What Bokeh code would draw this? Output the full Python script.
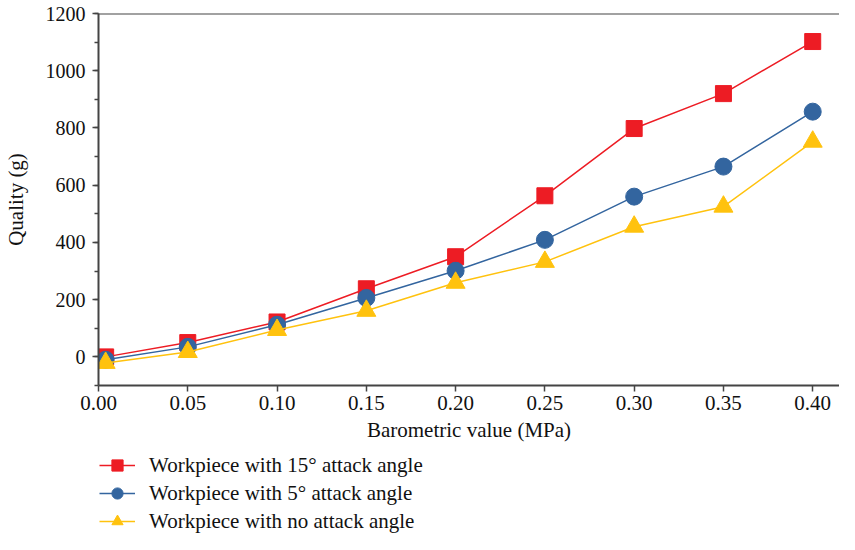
from bokeh.plotting import figure
from bokeh.layouts import column
from bokeh.models import (Range1d, SingleIntervalTicker, FixedTicker, Span, Legend, LegendItem,
                          NumeralTickFormatter)
from bokeh.embed import file_html
from bokeh.resources import INLINE

pressure = [0.004, 0.05, 0.10, 0.15, 0.20, 0.25, 0.30, 0.35, 0.40]
angle15 = [0, 50, 122, 238, 350, 563, 798, 920, 1102]
angle5 = [-10, 35, 112, 206, 301, 409, 560, 665, 857]
angle0 = [-21, 17, 94, 161, 259, 332, 455, 525, 752]
x_ticks = [0.0, 0.05, 0.10, 0.15, 0.20, 0.25, 0.30, 0.35, 0.40]
labels = ["Workpiece with 15° attack angle", "Workpiece with 5° attack angle",
          "Workpiece with no attack angle"]

FONT = "Liberation Serif"
AX = "#444444"
RED, BLUE, YEL = "#ED1C24", "#33659F", "#FFC20E"


def draw_series(fig):
    r = []
    r.append([fig.line(pressure, angle15, line_color=RED, line_width=1.5),
              fig.scatter(pressure, angle15, marker="square", size=16, fill_color=RED, line_color=RED)])
    r.append([fig.line(pressure, angle5, line_color=BLUE, line_width=1.5),
              fig.scatter(pressure, angle5, marker="circle", size=17, fill_color=BLUE, line_color=BLUE)])
    r.append([fig.line(pressure, angle0, line_color=YEL, line_width=1.5),
              fig.scatter(pressure, angle0, marker="triangle", size=19, fill_color=YEL, line_color=YEL)])
    return r


p = figure(width=839, height=451, output_backend="svg", toolbar_location=None,
           x_range=Range1d(0, 0.415), y_range=Range1d(-100, 1200),
           min_border_left=91, min_border_top=13, min_border_right=0, min_border_bottom=66)
p.outline_line_color = None
p.grid.grid_line_color = None
draw_series(p)

p.add_layout(Span(location=1200, dimension="width", line_color=AX, line_width=2))

for ax in (p.xaxis[0], p.yaxis[0]):
    ax.axis_line_color = AX
    ax.axis_line_width = 2
    ax.major_tick_line_color = AX
    ax.major_tick_line_width = 1.5
    ax.minor_tick_line_color = AX
    ax.minor_tick_line_width = 1.5
    ax.major_tick_out = 6
    ax.major_tick_in = 0
    ax.major_label_text_font = FONT
    ax.major_label_text_font_size = "20px"
    ax.major_label_text_color = "#111111"
    ax.axis_label_text_font = FONT
    ax.axis_label_text_font_size = "21px"
    ax.axis_label_text_font_style = "normal"
    ax.axis_label_text_color = "#111111"

p.xaxis.ticker = FixedTicker(ticks=x_ticks)
p.xaxis.formatter = NumeralTickFormatter(format="0.00")
p.xaxis.major_label_text_font_size = "21px"
p.xaxis.minor_tick_line_color = None
p.xaxis.major_label_standoff = 4
p.xaxis.axis_label = "Barometric value (MPa)"
p.xaxis.axis_label_standoff = 5

p.yaxis.ticker = SingleIntervalTicker(interval=200, num_minor_ticks=2)
p.yaxis.minor_tick_out = 4
p.yaxis.minor_tick_in = 0
p.yaxis.major_label_standoff = 7
p.yaxis.axis_label = "Quality (g)"
p.yaxis.axis_label_standoff = 15

# legend panel below the chart (its copies of the series lie outside its visible ranges)
lg = figure(width=839, height=86, output_backend="svg", toolbar_location=None,
            x_range=Range1d(10, 11), y_range=Range1d(10, 11),
            x_axis_location=None, y_axis_location=None,
            min_border_left=0, min_border_right=0, min_border_top=0, min_border_bottom=0)
lg.grid.grid_line_color = None
lg.outline_line_color = None
rs = draw_series(lg)
legend = Legend(items=[LegendItem(label=labels[i], renderers=rs[i]) for i in range(3)],
                location=(1, 2), orientation="vertical", margin=0, padding=0,
                border_line_color=None, background_fill_alpha=0,
                glyph_width=36, glyph_height=28, label_height=28, spacing=0,
                label_standoff=14, label_text_font=FONT, label_text_font_size="21px",
                label_text_color="#111111")
lg.add_layout(legend, "center")

layout = column(p, lg, spacing=0)
open("out.html", "w").write(file_html(layout, INLINE))
